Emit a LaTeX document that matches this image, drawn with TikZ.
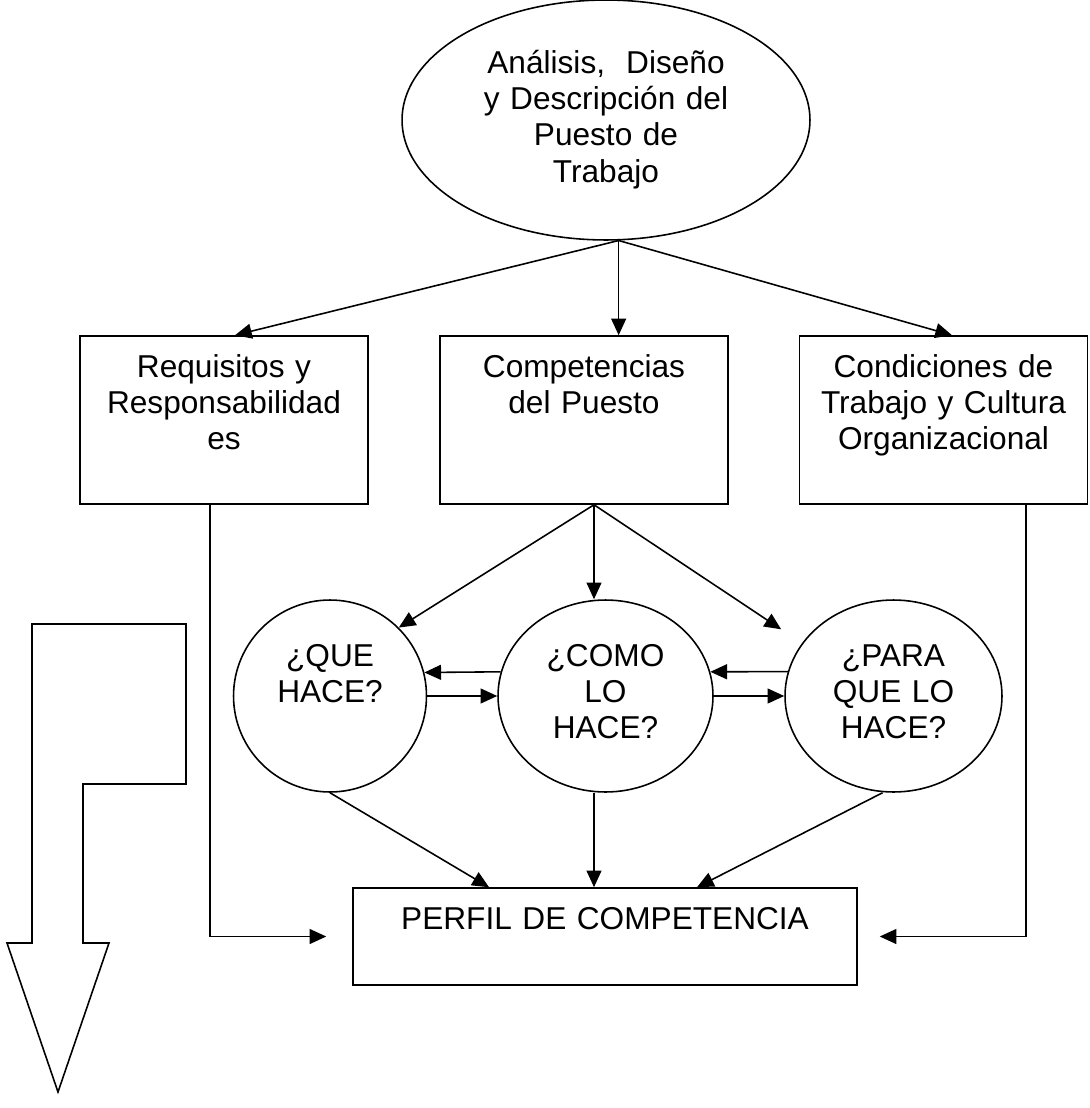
\documentclass[tikz,border=0pt]{standalone}
\usepackage{fontspec}
\setmainfont{Liberation Sans}
\usetikzlibrary{shapes.geometric,arrows.meta}

\begin{document}
\begin{tikzpicture}[x=0.02cm,y=-0.02cm,line width=0.9pt,font=\fontsize{18}{20.7}\selectfont,
  arr/.style={-{Triangle[length=9.5pt,width=8.5pt]}},
  oval/.style={draw,ellipse,minimum width=8.16cm,minimum height=4.8cm,text width=5.6cm,align=center,inner sep=0pt,text height=13pt,text depth=66.3pt},
  box/.style={draw,rectangle,minimum width=5.76cm,minimum height=3.36cm,text width=5.2cm,align=center,text height=13pt,text depth=61.8pt},
  ask/.style={draw,ellipse,minimum height=3.84cm,text width=2.5cm,align=center,inner sep=3pt,text height=13pt,text depth=47pt},
  res/.style={draw,rectangle,minimum width=10.08cm,minimum height=1.94cm,text width=9.5cm,align=center,text height=13pt,text depth=21.5pt}]
  \useasboundingbox (0,0) rectangle (1089,1108);
  \node[oval] (top) at (606,120){Análisis, \ Diseño\\y Descripción del\\Puesto de\\Trabajo};
  \node[box] (b1) at (224,420){Requisitos y\\Responsabilidad\\es};
  \node[box] (b2) at (584,420){Competencias\\del Puesto};
  \node[box] (b3) at (943.5,420){Condiciones de\\Trabajo y Cultura\\Organizacional};
  \node[ask,minimum width=3.86cm] (c1) at (330,696){¿QUE\\HACE?};
  \node[ask,minimum width=4.3cm] (c2) at (605.5,696){¿COMO\\LO\\HACE?};
  \node[ask,minimum width=4.34cm] (c3) at (893.5,696){¿PARA\\QUE LO\\HACE?};
  \node[res] (pf) at (605,936.5){PERFIL DE COMPETENCIA};
  \coordinate (b2o) at ([xshift=.2cm]b2.south);

  \draw[arr] (top.-84) -- ([xshift=.22cm]b1.north);
  \draw[arr] (top.-84) -- (top.-84 |- b2.north);
  \draw[arr] (top.-84) -- ([xshift=.17cm]b3.north);

  \draw[arr] (b2o) -- (c1.north east);
  \draw[arr] (b2o) -- (b2o |- c2.north);
  \draw[arr,shorten >=.5cm] (b2o) -- (c3.150);

  \draw[arr] (c2.167) -- (c1.14.5);
  \draw[arr] (c1.east) -- (c2.west);
  \draw[arr] (c3.167) -- (c2.13);
  \draw[arr] (c2.east) -- (c3.west);

  \draw[arr] (c1.south) -- ([xshift=-2.32cm]pf.north);
  \draw[arr] (b2o |- c2.south) -- (b2o |- pf.north);
  \draw[arr] ([xshift=-.22cm]c3.south) -- ([xshift=1.84cm]pf.north);
  \draw[arr,shorten >=.52cm] ([xshift=-.28cm]b1.south) |- (pf.west);
  \draw[arr,shorten >=.44cm] ([xshift=1.65cm]b3.south) |- (pf.east);

  \draw (32,624) -- (186,624) -- (186,784) -- (83,784) -- (83,943) -- (109,943) -- (58,1092) -- (7,943) -- (32,943) -- cycle;
\end{tikzpicture}
\end{document}
